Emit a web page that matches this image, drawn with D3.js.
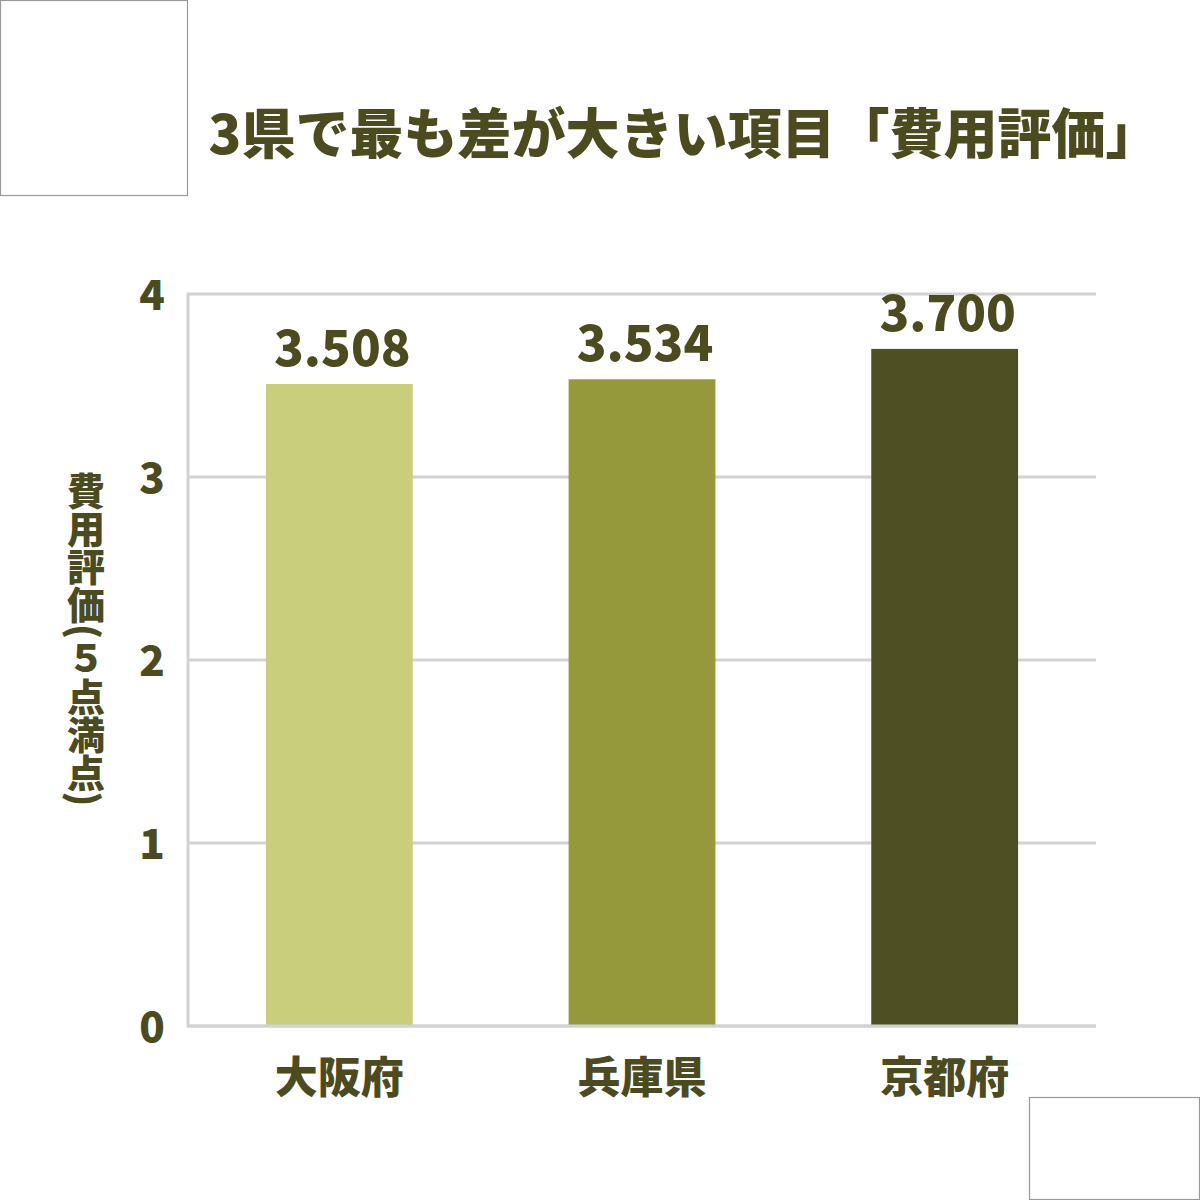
<!DOCTYPE html>
<html>
<head>
<meta charset="utf-8">
<script src="https://cdn.jsdelivr.net/npm/d3@7"></script>
<style>
  body { margin: 0; background: #fff; }
  svg { display: block; font-family: "Noto Sans CJK JP", sans-serif; font-weight: 900; }
</style>
</head>
<body>
<svg width="1200" height="1200"></svg>
<script>
// Data
const prefectures = ['大阪府', '兵庫県', '京都府']
const costScores = [3.508, 3.534, 3.700]
const barColors = ['#c8ce7c', '#96983c', '#4e4f22']
const yTicks = [0, 1, 2, 3, 4]

const title = '3県で最も差が大きい項目「費用評価」'
const yLabel = '費用評価(５点満点)'
const ink = '#4b4b1f'

// Set up
const svg = d3.select('svg')

const x = d3.scaleBand()
    .domain(prefectures)
    .range([188, 1096])
    .paddingInner(0.515)
    .paddingOuter(0.2575)

const y = d3.scaleLinear()
    .domain([0, 4])
    .range([1026, 294])

// corner boxes
svg.append('rect')
    .attr('x', 0.5).attr('y', 0.5)
    .attr('width', 187).attr('height', 195)
    .attr('fill', 'none').attr('stroke', '#999').attr('stroke-width', 1.2)
svg.append('rect')
    .attr('x', 1029.5).attr('y', 1097.5)
    .attr('width', 170).attr('height', 102)
    .attr('fill', 'none').attr('stroke', '#999').attr('stroke-width', 1.2)

// title (the closing bracket carries blank space, hence the offset)
svg.append('text')
    .attr('x', 684).attr('y', 154)
    .attr('text-anchor', 'middle')
    .attr('font-size', 54)
    .attr('fill', ink)
    .text(title)

// grid
svg.append('g')
    .selectAll('line')
    .data(yTicks)
    .join('line')
    .attr('x1', 188).attr('x2', 1096)
    .attr('y1', d => y(d)).attr('y2', d => y(d))
    .attr('stroke', '#d2d2d4')
    .attr('stroke-width', 3)

svg.append('line')
    .attr('x1', 188).attr('x2', 188)
    .attr('y1', y(4) - 1.5).attr('y2', y(0) + 1.5)
    .attr('stroke', '#d2d2d4')
    .attr('stroke-width', 3)

// y tick labels
svg.append('g')
    .selectAll('text')
    .data(yTicks)
    .join('text')
    .attr('x', 152)
    .attr('y', d => y(d) + 5)
    .attr('text-anchor', 'middle')
    .attr('dominant-baseline', 'middle')
    .attr('font-size', 42)
    .attr('fill', ink)
    .text(d => d)

// y axis label, vertical
svg.append('text')
    .attr('x', 86).attr('y', 472)
    .attr('font-size', 38)
    .attr('fill', ink)
    .style('writing-mode', 'vertical-rl')
    .style('text-orientation', 'mixed')
    .text(yLabel)

// bars
svg.append('g')
    .selectAll('rect')
    .data(costScores)
    .join('rect')
    .attr('x', (d, i) => x(prefectures[i]))
    .attr('width', x.bandwidth())
    .attr('y', d => y(d))
    .attr('height', d => y(0) - y(d))
    .attr('fill', (d, i) => barColors[i])

// redraw baseline over bars
svg.append('line')
    .attr('x1', 188).attr('x2', 1096)
    .attr('y1', y(0)).attr('y2', y(0))
    .attr('stroke', '#d2d2d4')
    .attr('stroke-width', 3)

// value labels
svg.append('g')
    .selectAll('text')
    .data(costScores)
    .join('text')
    .attr('x', (d, i) => x(prefectures[i]) + x.bandwidth() / 2 + 3)
    .attr('y', d => y(d) - 18)
    .attr('text-anchor', 'middle')
    .attr('font-size', 49)
    .attr('fill', ink)
    .text(d => d.toFixed(3))

// category labels
svg.append('g')
    .selectAll('text')
    .data(prefectures)
    .join('text')
    .attr('x', d => x(d) + x.bandwidth() / 2)
    .attr('y', 1093)
    .attr('text-anchor', 'middle')
    .attr('font-size', 43)
    .attr('fill', ink)
    .text(d => d)
</script>
</body>
</html>
